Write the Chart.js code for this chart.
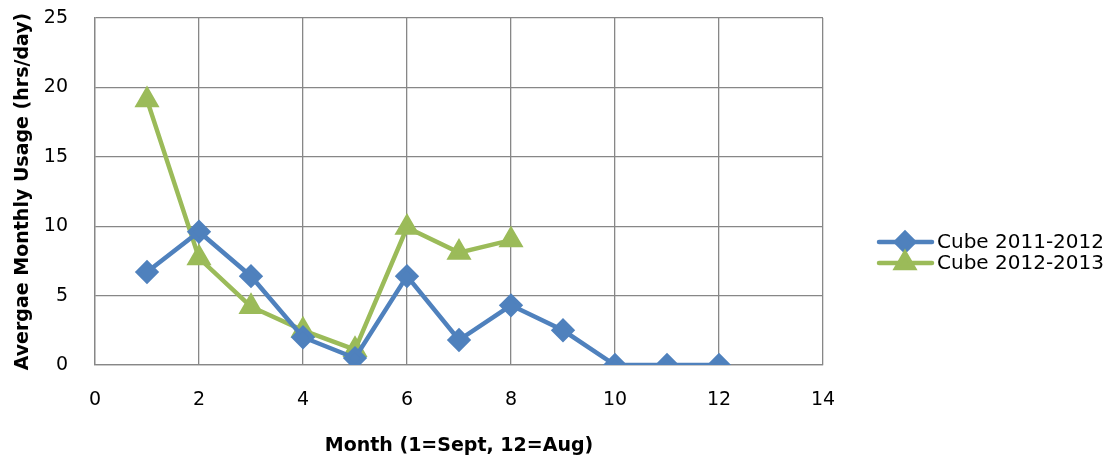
<!DOCTYPE html>
<html>
<head>
<meta charset="utf-8">
<script src="https://cdn.jsdelivr.net/npm/chart.js@4"></script>
<style>
  html, body { margin: 0; padding: 0; background: #fff; }
  #wrap { width: 1118px; height: 457px; }
</style>
</head>
<body>
<div id="wrap"><canvas id="usage-chart"></canvas></div>
<script>
const months = [1, 2, 3, 4, 5, 6, 7, 8, 9, 10, 11, 12];
const cube2011 = [6.7, 9.6, 6.4, 2.0, 0.5, 6.4, 1.8, 4.3, 2.5, 0, 0, 0];
const cube2012 = [19.1, 7.7, 4.2, 2.5, 1.1, 9.9, 8.1, 9.0];
const seriesLabels = ['Cube 2011-2012', 'Cube 2012-2013'];

const COLORS = {
  blue: '#4F81BD',
  green: '#9BBB59',
  grid: '#878787',
  text: '#000000',
};
const FONT = "'DejaVu Sans', sans-serif";

const toPoints = (vals) => vals.map((v, i) => ({ x: months[i], y: v }));

// legend drawn like Excel's: short line with the marker on it
const sideLegend = {
  id: 'sideLegend',
  afterDraw(chart) {
    const { ctx } = chart;
    const rows = [242, 263];
    chart.data.datasets.forEach((ds, i) => {
      const y = rows[i];
      ctx.save();
      ctx.strokeStyle = ds.borderColor;
      ctx.lineWidth = 4.5;
      ctx.lineCap = 'round';
      ctx.beginPath();
      ctx.moveTo(879, y);
      ctx.lineTo(932, y);
      ctx.stroke();
      ctx.fillStyle = ds.pointBackgroundColor;
      ctx.strokeStyle = ds.pointBackgroundColor;
      Chart.helpers.drawPoint(ctx, { pointStyle: ds.pointStyle, radius: ds.pointRadius, borderWidth: 1 }, 905, y);
      ctx.fillStyle = COLORS.text;
      ctx.font = `20px ${FONT}`;
      ctx.textBaseline = 'middle';
      ctx.fillText(ds.label, 937, y + 1);
      ctx.restore();
    });
  },
};

const hiddenTicks = 'rgba(0,0,0,0)';

new Chart(document.getElementById('usage-chart'), {
  type: 'line',
  data: {
    datasets: [
      {
        label: seriesLabels[0],
        data: toPoints(cube2011),
        borderColor: COLORS.blue,
        backgroundColor: COLORS.blue,
        pointBackgroundColor: COLORS.blue,
        pointBorderColor: COLORS.blue,
        pointStyle: 'rectRot',
        pointRadius: 9,
        borderWidth: 4.5,
        tension: 0,
      },
      {
        label: seriesLabels[1],
        data: toPoints(cube2012),
        borderColor: COLORS.green,
        backgroundColor: COLORS.green,
        pointBackgroundColor: COLORS.green,
        pointBorderColor: COLORS.green,
        pointStyle: 'triangle',
        pointRadius: 10,
        borderWidth: 4.5,
        tension: 0,
      },
    ],
  },
  options: {
    responsive: true,
    maintainAspectRatio: false,
    animation: false,
    layout: { padding: { top: 18, right: 295, left: 0, bottom: 0 } },
    plugins: {
      legend: { display: false },
      tooltip: { enabled: false },
    },
    scales: {
      x: {
        type: 'linear',
        min: 0,
        max: 14,
        ticks: { stepSize: 2, color: COLORS.text, font: { family: FONT, size: 19 }, padding: 0 },
        grid: { color: COLORS.grid, lineWidth: 1.3, tickLength: 24, tickColor: hiddenTicks },
        border: { color: COLORS.grid, width: 1.3 },
        title: {
          display: true,
          text: 'Month (1=Sept, 12=Aug)',
          color: COLORS.text,
          font: { family: FONT, size: 19, weight: 'bold' },
          padding: { top: 2, bottom: 0 },
        },
        afterFit(scale) { scale.height = 457 - 365; },
      },
      y: {
        min: 0,
        max: 25,
        ticks: { stepSize: 5, color: COLORS.text, font: { family: FONT, size: 19 }, padding: 27 },
        grid: { color: COLORS.grid, lineWidth: 1.3, drawTicks: false },
        border: { color: COLORS.grid, width: 1.3 },
        title: {
          display: true,
          text: 'Avergae Monthly Usage (hrs/day)',
          color: COLORS.text,
          font: { family: FONT, size: 19, weight: 'bold' },
          padding: { top: 12, bottom: 0 },
        },
        afterFit(scale) {
          scale.width = 95;
          // tick padding should push labels left only, not shrink the plot
          scale.paddingTop = 0;
          scale.paddingBottom = 0;
        },
      },
    },
  },
  plugins: [sideLegend],
});
</script>
</body>
</html>
